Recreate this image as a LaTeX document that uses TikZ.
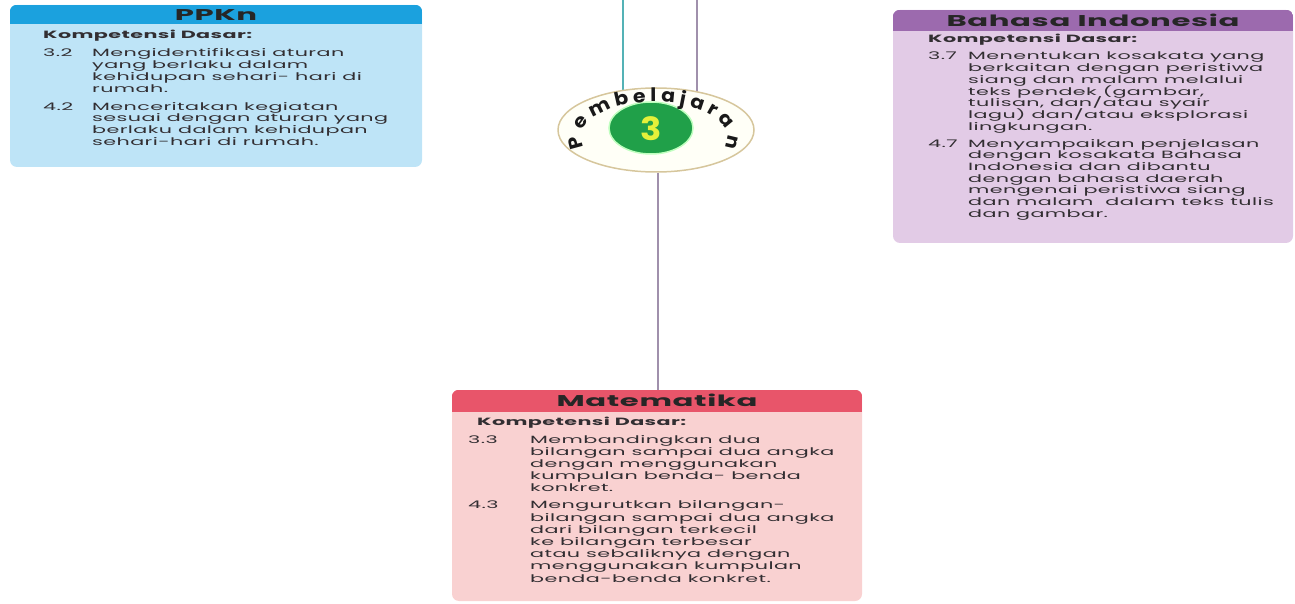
\documentclass[tikz,border=0pt]{standalone}
\usepackage{fontspec}
\usepackage{array}
\setmainfont{Poppins}[FakeStretch=1.97, LetterSpace=4]
\newfontfamily\badgefont{Poppins}[FakeStretch=1.1]
\usetikzlibrary{shapes.geometric, positioning, backgrounds, decorations.text}
\definecolor{ppknhead}{RGB}{27,161,222}
\definecolor{ppknbody}{RGB}{190,228,247}
\definecolor{bindhead}{RGB}{156,106,174}
\definecolor{bindbody}{RGB}{226,203,230}
\definecolor{mathead}{RGB}{232,85,106}
\definecolor{matbody}{RGB}{249,209,209}
\definecolor{linkteal}{RGB}{84,178,182}
\definecolor{linkpurple}{RGB}{160,144,172}
\definecolor{badgerim}{RGB}{214,198,156}
\definecolor{badgegreen}{RGB}{32,160,73}
\definecolor{badgeyellow}{RGB}{228,240,58}
\definecolor{inktext}{RGB}{50,46,50}
% list column whose rows keep a fixed line pitch
\newcolumntype{T}{>{\setbox0=\hbox\bgroup}l<{\egroup\smash{\box0}}}
% header band of a card: node, height, colour
\newcommand{\cardhead}[3]{%
  \begin{scope}
    \clip[rounded corners=7pt] (#1.south west) rectangle (#1.north east);
    \fill[#3] (#1.north west) rectangle ([yshift=-#2]#1.north east);
  \end{scope}}

\begin{document}
\begin{tikzpicture}[
    x=1pt, y=1pt,
    card/.style={rectangle, rounded corners=7pt, inner sep=0pt},
    title/.style={font=\fontsize{15.6}{16}\selectfont\bfseries, text=black!85},
    kd/.style={font=\fontsize{10.5}{11.8}\selectfont\bfseries, text=inktext,
               inner sep=0pt},
    kdlist/.style={font=\fontsize{10.5}{#1}\selectfont, text=inktext,
                   inner sep=0pt},
    kdlist/.default=11.7,
    link/.style={line width=2pt},
]
\useasboundingbox (0,0) rectangle (1295,603);

% ── PPKn card ──────────────────────────────────────────────────────────
\node[card, fill=ppknbody, minimum width=412pt, minimum height=162pt]
      (ppkn) at (216,517) {};
\cardhead{ppkn}{19pt}{ppknhead}
\node[title] (ppkntitle) at ([yshift=-10pt]ppkn.north) {PPKn};
\node[kd, anchor=west] (ppknkd) at (43,567) {Kompetensi Dasar:};
\node[kdlist, anchor=base west] (ppknlist) at (43,546)
      {\begin{tabular}[t]{@{}p{49pt}@{}T@{}}
       3.2 & Mengidentifikasi aturan\\
           & yang berlaku dalam\\
           & kehidupan sehari- hari di\\
           & rumah.\\[6.3pt]
       4.2 & Menceritakan kegiatan\\
           & sesuai dengan aturan yang\\
           & berlaku dalam kehidupan\\
           & sehari-hari di rumah.
       \end{tabular}};

% ── Bahasa Indonesia card ──────────────────────────────────────────────
\node[card, fill=bindbody, minimum width=400pt, minimum height=233pt]
      (bind) at (1093,476.5) {};
\cardhead{bind}{21pt}{bindhead}
\node[title] (bindtitle) at ([yshift=-10.5pt]bind.north) {Bahasa Indonesia};
\node[kd, anchor=west] (bindkd) at (928,563) {Kompetensi Dasar:};
\node[kdlist, anchor=base west] (bindlist) at (928,543)
      {\begin{tabular}[t]{@{}p{40pt}@{}T@{}}
       3.7 & Menentukan kosakata yang\\
           & berkaitan dengan peristiwa\\
           & siang dan malam melalui\\
           & teks pendek (gambar,\\
           & tulisan, dan/atau syair\\
           & lagu) dan/atau eksplorasi\\
           & lingkungan.\\[5.3pt]
       4.7 & Menyampaikan penjelasan\\
           & dengan kosakata Bahasa\\
           & Indonesia dan dibantu\\
           & dengan bahasa daerah\\
           & mengenai peristiwa siang\\
           & dan malam \ dalam teks tulis\\
           & dan gambar.
       \end{tabular}};

% ── Matematika card ────────────────────────────────────────────────────
\node[card, fill=matbody, minimum width=410pt, minimum height=211pt]
      (mat) at (657,107.5) {};
\cardhead{mat}{22pt}{mathead}
\node[title] (mattitle) at ([yshift=-11pt]mat.north) {Matematika};
\node[kd, anchor=west] (matkd) at (477,180) {Kompetensi Dasar:};
\node[kdlist=12.2, anchor=base west] (matlist) at (468,160)
      {\begin{tabular}[t]{@{}p{62pt}@{}T@{}}
       3.3 & Membandingkan dua\\
           & bilangan sampai dua angka\\
           & dengan menggunakan\\
           & kumpulan benda- benda\\
           & konkret.\\[4.8pt]
       4.3 & Mengurutkan bilangan-\\
           & bilangan sampai dua angka\\
           & dari bilangan terkecil\\
           & ke bilangan terbesar\\
           & atau sebaliknya dengan\\
           & menggunakan kumpulan\\
           & benda-benda konkret.
       \end{tabular}};

% ── Badge: Pembelajaran 3 ──────────────────────────────────────────────
\node[ellipse, fill=white!97!yellow, draw=badgerim, line width=1.5pt,
      minimum width=196pt, minimum height=84pt] (badge) at (656,473) {};
\filldraw[fill=badgegreen, draw=green!25!white, line width=1.5pt]
      (651,475) ellipse[x radius=42, y radius=26];
\node[text=badgeyellow, inner sep=0pt,
      font=\badgefont\fontsize{32}{32}\selectfont\bfseries] (num) at (651,474) {3};
\path[decorate, decoration={text along path, text align=fit to path,
      text={|\badgefont\fontsize{18.5}{19}\selectfont\bfseries\color{black!90}|Pembelajaran}}]
      (badge.center) ++(-2,-7) ++(197:73 and 35)
      arc[start angle=197, end angle=-17, x radius=73, y radius=35];

% ── Links ──────────────────────────────────────────────────────────────
\coordinate (ppknlink) at (623,603);
\coordinate (bindlink) at (697,603);
\begin{scope}[on background layer]
\draw[link, linkteal]   (ppknlink) -- (ppknlink |- badge.center);
\draw[link, linkpurple] (bindlink) -- (bindlink |- badge.center);
\draw[link, linkpurple] ([xshift=2pt]badge.south) -- ([xshift=2pt]badge.south |- mat.north);
\end{scope}

\end{tikzpicture}
\end{document}
